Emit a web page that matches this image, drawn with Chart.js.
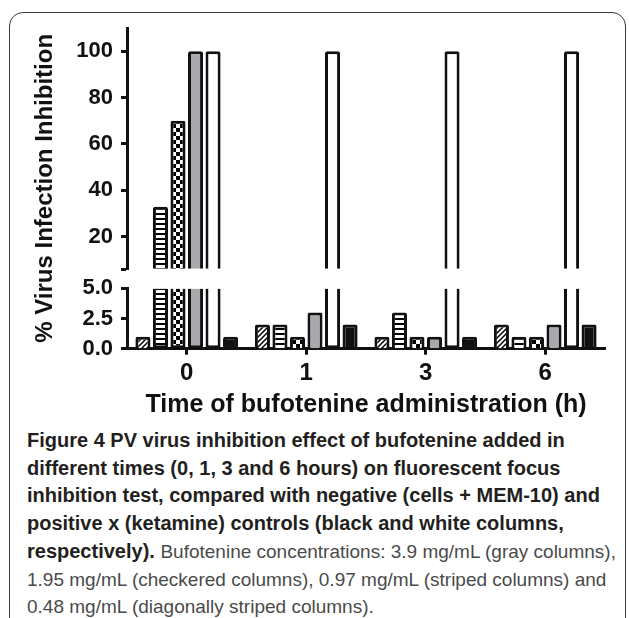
<!DOCTYPE html>
<html>
<head>
<meta charset="utf-8">
<script src="https://cdn.jsdelivr.net/npm/chart.js@4.4.1/dist/chart.umd.min.js"></script>
<style>
  body { margin: 0; background: #fff; width: 629px; height: 618px; overflow: hidden; position: relative; }
  .frame { position: absolute; left: 9px; top: 12px; width: 617px; height: 700px; border: 1.5px solid #3a3a3a; border-radius: 14px; box-sizing: border-box; }
  .chart { position: absolute; left: 0; top: 0; width: 629px; height: 421px; }
  .caption { position: absolute; left: 27px; top: 427px; font-family: 'Liberation Sans', Arial, sans-serif; font-size: 20px; line-height: 27.7px; color: #231f20; white-space: nowrap; }
  .caption b { font-weight: bold; }
  .caption .plain { color: #4a4a4a; font-size: 19px; }
</style>
</head>
<body>
<div class="frame"></div>
<div class="chart"><canvas id="fig4"></canvas></div>
<div class="caption">
  <b>Figure 4 PV virus inhibition effect of bufotenine added in</b><br>
  <b>different times (0, 1, 3 and 6 hours) on fluorescent focus</b><br>
  <b>inhibition test, compared with negative (cells + MEM-10) and</b><br>
  <b>positive x (ketamine) controls (black and white columns,</b><br>
  <b>respectively).</b> <span class="plain">Bufotenine concentrations: 3.9 mg/mL (gray columns),</span><br>
  <span class="plain">1.95 mg/mL (checkered columns), 0.97 mg/mL (striped columns) and</span><br>
  <span class="plain">0.48 mg/mL (diagonally striped columns).</span>
</div>
<script>
// data (% virus infection inhibition)
const times = ['0', '1', '3', '6'];
const diagStriped = [1, 2, 1, 2];      // 0.48 mg/mL
const striped = [33, 2, 3, 1];         // 0.97 mg/mL
const checkered = [70, 1, 1, 1];       // 1.95 mg/mL
const gray = [100, 3, 1, 2];           // 3.9 mg/mL
const positive = [100, 100, 100, 100]; // ketamine (white)
const negative = [1, 2, 1, 2];         // cells + MEM-10 (black)
const upperTicks = [20, 40, 60, 80, 100];
const lowerTicks = [0, 2.5, 5];

const LOW_MAX = 5, UP_MIN = 6, UP_MAX = 110;
const AXW = 62;
const font = "'Liberation Sans', Arial, sans-serif";

function tile(w, h, draw) {
  const c = document.createElement('canvas');
  c.width = w; c.height = h;
  const g = c.getContext('2d');
  g.fillStyle = '#fff';
  g.fillRect(0, 0, w, h);
  g.fillStyle = '#000';
  g.strokeStyle = '#000';
  draw(g);
  return g.createPattern(c, 'repeat');
}
const diagFill = tile(5, 5, g => {
  g.lineWidth = 1.5;
  g.beginPath();
  g.moveTo(-1, 6); g.lineTo(6, -1);
  g.moveTo(-1, 1); g.lineTo(1, -1);
  g.moveTo(4, 6); g.lineTo(6, 4);
  g.stroke();
});
const stripeFill = tile(5, 5, g => g.fillRect(0, 3, 5, 2));
const checkFill = tile(8, 8, g => { g.fillRect(0, 0, 4, 4); g.fillRect(4, 4, 4, 4); });

const series = [
  { label: '0.48 mg/mL', values: diagStriped, fill: diagFill },
  { label: '0.97 mg/mL', values: striped, fill: stripeFill },
  { label: '1.95 mg/mL', values: checkered, fill: checkFill },
  { label: '3.9 mg/mL', values: gray, fill: '#a7a9ac' },
  { label: 'positive (ketamine)', values: positive, fill: '#ffffff' },
  { label: 'negative (cells + MEM-10)', values: negative, fill: '#111111' }
];

const common = {
  borderColor: '#111',
  borderWidth: 3,
  borderRadius: 2,
  categoryPercentage: 0.88,
  barPercentage: 0.86
};

const datasets = [];
series.forEach((s, i) => {
  // lower panel (0 - 5), bars that go past the break lose their top edge
  datasets.push(Object.assign({}, common, {
    label: s.label,
    data: s.values.map(v => Math.min(v, LOW_MAX)),
    yAxisID: 'yLow',
    stack: 's' + i,
    backgroundColor: s.fill,
    borderSkipped: c => s.values[c.dataIndex] > LOW_MAX ? 'end' : 'start'
  }));
  // upper panel (above the break)
  datasets.push(Object.assign({}, common, {
    label: s.label,
    data: s.values.map(v => v > UP_MIN ? v : null),
    yAxisID: 'yUp',
    stack: 's' + i,
    base: UP_MIN,
    backgroundColor: s.fill
  }));
});

const tickFont = { family: font, size: 22, weight: 'bold' };
const axisGrid = { display: true, drawOnChartArea: false, drawTicks: true, tickLength: 6, tickWidth: 3, tickColor: '#111' };
const axisBorder = { display: true, width: 3, color: '#111' };
const fixW = s => { s.width = AXW; };

new Chart(document.getElementById('fig4'), {
  type: 'bar',
  data: { labels: times, datasets: datasets },
  options: {
    responsive: true,
    maintainAspectRatio: false,
    animation: false,
    layout: { padding: { left: 27, right: 24, top: 28, bottom: 2 } },
    plugins: { legend: { display: false }, tooltip: { enabled: false } },
    scales: {
      x: {
        type: 'category',
        offset: true,
        grid: Object.assign({}, axisGrid, { offset: false }),
        border: axisBorder,
        ticks: { font: { family: font, size: 24, weight: 'bold' }, color: '#111', padding: 4 },
        title: {
          display: true,
          text: 'Time of bufotenine administration (h)',
          font: { family: font, size: 25, weight: 'bold', lineHeight: 1.1 },
          color: '#111',
          padding: { top: 0, bottom: 0 }
        }
      },
      yLow: {
        type: 'linear', position: 'left', stack: 'y', stackWeight: 60,
        min: 0, max: LOW_MAX,
        afterBuildTicks: s => { s.ticks = lowerTicks.map(v => ({ value: v })); },
        afterFit: fixW,
        grid: axisGrid, border: axisBorder,
        ticks: { font: tickFont, color: '#111', padding: 8, autoSkip: false, callback: v => v.toFixed(1) }
      },
      yGap: {
        type: 'linear', position: 'left', stack: 'y', stackWeight: 19,
        min: 0, max: 1,
        afterFit: fixW,
        grid: { display: false }, border: { display: false },
        ticks: { display: false }
      },
      yUp: {
        type: 'linear', position: 'left', stack: 'y', stackWeight: 240,
        min: UP_MIN, max: UP_MAX,
        afterBuildTicks: s => { s.ticks = [UP_MIN].concat(upperTicks).map(v => ({ value: v })); },
        afterFit: fixW,
        grid: axisGrid, border: axisBorder,
        ticks: { font: tickFont, color: '#111', padding: 8, autoSkip: false, callback: v => v === UP_MIN ? '' : v }
      },
      yTitle: {
        type: 'linear', position: 'left', weight: 1,
        min: 0, max: 1,
        afterFit: s => { s.width = 38; },
        grid: { display: false }, border: { display: false },
        ticks: { display: false },
        title: {
          display: true,
          text: '% Virus Infection Inhibition',
          font: { family: font, size: 24, weight: 'bold' },
          color: '#111',
          padding: { top: 4, bottom: 4 }
        }
      }
    }
  }
});
</script>
</body>
</html>
